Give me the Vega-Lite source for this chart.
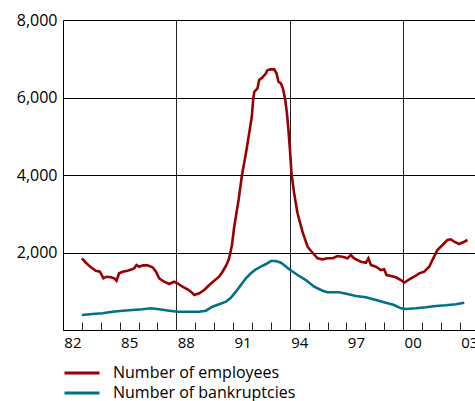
{
  "$schema": "https://vega.github.io/schema/vega-lite/v6.json",
  "width": 412,
  "height": 310,
  "autosize": {"type": "none"},
  "padding": {"left": 63, "top": 20, "right": 0, "bottom": 71},
  "background": "white",
  "config": {"view": {"stroke": null}, "font": "Open Sans"},
  "data": {"values": [
      {"year": 1983.00, "value": 1850, "series": "Number of employees"},
      {"year": 1983.21, "value": 1736, "series": "Number of employees"},
      {"year": 1983.48, "value": 1617, "series": "Number of employees"},
      {"year": 1983.74, "value": 1530, "series": "Number of employees"},
      {"year": 1983.95, "value": 1504, "series": "Number of employees"},
      {"year": 1984.14, "value": 1334, "series": "Number of employees"},
      {"year": 1984.30, "value": 1375, "series": "Number of employees"},
      {"year": 1984.53, "value": 1360, "series": "Number of employees"},
      {"year": 1984.71, "value": 1334, "series": "Number of employees"},
      {"year": 1984.83, "value": 1272, "series": "Number of employees"},
      {"year": 1984.97, "value": 1463, "series": "Number of employees"},
      {"year": 1985.15, "value": 1504, "series": "Number of employees"},
      {"year": 1985.41, "value": 1530, "series": "Number of employees"},
      {"year": 1985.65, "value": 1566, "series": "Number of employees"},
      {"year": 1985.77, "value": 1592, "series": "Number of employees"},
      {"year": 1985.89, "value": 1677, "series": "Number of employees"},
      {"year": 1986.03, "value": 1633, "series": "Number of employees"},
      {"year": 1986.24, "value": 1669, "series": "Number of employees"},
      {"year": 1986.47, "value": 1669, "series": "Number of employees"},
      {"year": 1986.74, "value": 1618, "series": "Number of employees"},
      {"year": 1986.92, "value": 1504, "series": "Number of employees"},
      {"year": 1987.09, "value": 1334, "series": "Number of employees"},
      {"year": 1987.35, "value": 1246, "series": "Number of employees"},
      {"year": 1987.62, "value": 1187, "series": "Number of employees"},
      {"year": 1987.88, "value": 1246, "series": "Number of employees"},
      {"year": 1988.06, "value": 1205, "series": "Number of employees"},
      {"year": 1988.32, "value": 1117, "series": "Number of employees"},
      {"year": 1988.59, "value": 1050, "series": "Number of employees"},
      {"year": 1988.77, "value": 988, "series": "Number of employees"},
      {"year": 1988.94, "value": 903, "series": "Number of employees"},
      {"year": 1989.21, "value": 947, "series": "Number of employees"},
      {"year": 1989.47, "value": 1032, "series": "Number of employees"},
      {"year": 1989.74, "value": 1161, "series": "Number of employees"},
      {"year": 1990.00, "value": 1272, "series": "Number of employees"},
      {"year": 1990.26, "value": 1375, "series": "Number of employees"},
      {"year": 1990.44, "value": 1504, "series": "Number of employees"},
      {"year": 1990.62, "value": 1651, "series": "Number of employees"},
      {"year": 1990.76, "value": 1806, "series": "Number of employees"},
      {"year": 1990.85, "value": 1979, "series": "Number of employees"},
      {"year": 1990.94, "value": 2193, "series": "Number of employees"},
      {"year": 1991.06, "value": 2665, "series": "Number of employees"},
      {"year": 1991.29, "value": 3354, "series": "Number of employees"},
      {"year": 1991.47, "value": 4000, "series": "Number of employees"},
      {"year": 1991.68, "value": 4559, "series": "Number of employees"},
      {"year": 1991.85, "value": 5075, "series": "Number of employees"},
      {"year": 1991.99, "value": 5503, "series": "Number of employees"},
      {"year": 1992.06, "value": 5934, "series": "Number of employees"},
      {"year": 1992.12, "value": 6148, "series": "Number of employees"},
      {"year": 1992.29, "value": 6236, "series": "Number of employees"},
      {"year": 1992.38, "value": 6450, "series": "Number of employees"},
      {"year": 1992.56, "value": 6520, "series": "Number of employees"},
      {"year": 1992.74, "value": 6623, "series": "Number of employees"},
      {"year": 1992.82, "value": 6708, "series": "Number of employees"},
      {"year": 1993.00, "value": 6726, "series": "Number of employees"},
      {"year": 1993.17, "value": 6726, "series": "Number of employees"},
      {"year": 1993.30, "value": 6623, "series": "Number of employees"},
      {"year": 1993.40, "value": 6406, "series": "Number of employees"},
      {"year": 1993.53, "value": 6365, "series": "Number of employees"},
      {"year": 1993.65, "value": 6210, "series": "Number of employees"},
      {"year": 1993.76, "value": 5934, "series": "Number of employees"},
      {"year": 1993.85, "value": 5591, "series": "Number of employees"},
      {"year": 1993.93, "value": 5160, "series": "Number of employees"},
      {"year": 1994.01, "value": 4644, "series": "Number of employees"},
      {"year": 1994.09, "value": 4043, "series": "Number of employees"},
      {"year": 1994.23, "value": 3527, "series": "Number of employees"},
      {"year": 1994.41, "value": 3011, "series": "Number of employees"},
      {"year": 1994.67, "value": 2536, "series": "Number of employees"},
      {"year": 1994.94, "value": 2149, "series": "Number of employees"},
      {"year": 1995.20, "value": 1994, "series": "Number of employees"},
      {"year": 1995.47, "value": 1850, "series": "Number of employees"},
      {"year": 1995.73, "value": 1824, "series": "Number of employees"},
      {"year": 1995.99, "value": 1850, "series": "Number of employees"},
      {"year": 1996.26, "value": 1850, "series": "Number of employees"},
      {"year": 1996.52, "value": 1909, "series": "Number of employees"},
      {"year": 1996.79, "value": 1891, "series": "Number of employees"},
      {"year": 1997.05, "value": 1850, "series": "Number of employees"},
      {"year": 1997.23, "value": 1935, "series": "Number of employees"},
      {"year": 1997.41, "value": 1850, "series": "Number of employees"},
      {"year": 1997.76, "value": 1762, "series": "Number of employees"},
      {"year": 1998.03, "value": 1736, "series": "Number of employees"},
      {"year": 1998.16, "value": 1850, "series": "Number of employees"},
      {"year": 1998.29, "value": 1677, "series": "Number of employees"},
      {"year": 1998.56, "value": 1633, "series": "Number of employees"},
      {"year": 1998.82, "value": 1548, "series": "Number of employees"},
      {"year": 1998.99, "value": 1566, "series": "Number of employees"},
      {"year": 1999.12, "value": 1419, "series": "Number of employees"},
      {"year": 1999.35, "value": 1393, "series": "Number of employees"},
      {"year": 1999.61, "value": 1360, "series": "Number of employees"},
      {"year": 1999.88, "value": 1290, "series": "Number of employees"},
      {"year": 2000.05, "value": 1220, "series": "Number of employees"},
      {"year": 2000.32, "value": 1308, "series": "Number of employees"},
      {"year": 2000.58, "value": 1375, "series": "Number of employees"},
      {"year": 2000.85, "value": 1463, "series": "Number of employees"},
      {"year": 2001.11, "value": 1504, "series": "Number of employees"},
      {"year": 2001.38, "value": 1633, "series": "Number of employees"},
      {"year": 2001.59, "value": 1850, "series": "Number of employees"},
      {"year": 2001.81, "value": 2064, "series": "Number of employees"},
      {"year": 2002.08, "value": 2193, "series": "Number of employees"},
      {"year": 2002.34, "value": 2322, "series": "Number of employees"},
      {"year": 2002.52, "value": 2340, "series": "Number of employees"},
      {"year": 2002.70, "value": 2278, "series": "Number of employees"},
      {"year": 2002.96, "value": 2219, "series": "Number of employees"},
      {"year": 2003.23, "value": 2278, "series": "Number of employees"},
      {"year": 2003.40, "value": 2322, "series": "Number of employees"},

      {"year": 1983.00, "value": 387, "series": "Number of bankruptcies"},
      {"year": 1983.56, "value": 413, "series": "Number of bankruptcies"},
      {"year": 1984.09, "value": 431, "series": "Number of bankruptcies"},
      {"year": 1984.62, "value": 472, "series": "Number of bankruptcies"},
      {"year": 1985.15, "value": 498, "series": "Number of bankruptcies"},
      {"year": 1985.68, "value": 516, "series": "Number of bankruptcies"},
      {"year": 1986.21, "value": 534, "series": "Number of bankruptcies"},
      {"year": 1986.65, "value": 560, "series": "Number of bankruptcies"},
      {"year": 1987.09, "value": 534, "series": "Number of bankruptcies"},
      {"year": 1987.62, "value": 498, "series": "Number of bankruptcies"},
      {"year": 1988.06, "value": 472, "series": "Number of bankruptcies"},
      {"year": 1988.68, "value": 472, "series": "Number of bankruptcies"},
      {"year": 1989.21, "value": 472, "series": "Number of bankruptcies"},
      {"year": 1989.56, "value": 498, "series": "Number of bankruptcies"},
      {"year": 1989.91, "value": 601, "series": "Number of bankruptcies"},
      {"year": 1990.26, "value": 663, "series": "Number of bankruptcies"},
      {"year": 1990.62, "value": 730, "series": "Number of bankruptcies"},
      {"year": 1990.88, "value": 833, "series": "Number of bankruptcies"},
      {"year": 1991.15, "value": 988, "series": "Number of bankruptcies"},
      {"year": 1991.41, "value": 1161, "series": "Number of bankruptcies"},
      {"year": 1991.68, "value": 1334, "series": "Number of bankruptcies"},
      {"year": 1991.94, "value": 1463, "series": "Number of bankruptcies"},
      {"year": 1992.21, "value": 1566, "series": "Number of bankruptcies"},
      {"year": 1992.47, "value": 1633, "series": "Number of bankruptcies"},
      {"year": 1992.74, "value": 1703, "series": "Number of bankruptcies"},
      {"year": 1993.00, "value": 1780, "series": "Number of bankruptcies"},
      {"year": 1993.26, "value": 1780, "series": "Number of bankruptcies"},
      {"year": 1993.53, "value": 1736, "series": "Number of bankruptcies"},
      {"year": 1993.76, "value": 1651, "series": "Number of bankruptcies"},
      {"year": 1993.97, "value": 1566, "series": "Number of bankruptcies"},
      {"year": 1994.41, "value": 1419, "series": "Number of bankruptcies"},
      {"year": 1994.85, "value": 1290, "series": "Number of bankruptcies"},
      {"year": 1995.29, "value": 1117, "series": "Number of bankruptcies"},
      {"year": 1995.73, "value": 1014, "series": "Number of bankruptcies"},
      {"year": 1995.99, "value": 973, "series": "Number of bankruptcies"},
      {"year": 1996.61, "value": 973, "series": "Number of bankruptcies"},
      {"year": 1997.05, "value": 929, "series": "Number of bankruptcies"},
      {"year": 1997.50, "value": 877, "series": "Number of bankruptcies"},
      {"year": 1998.03, "value": 844, "series": "Number of bankruptcies"},
      {"year": 1998.56, "value": 774, "series": "Number of bankruptcies"},
      {"year": 1999.08, "value": 704, "series": "Number of bankruptcies"},
      {"year": 1999.52, "value": 645, "series": "Number of bankruptcies"},
      {"year": 1999.88, "value": 560, "series": "Number of bankruptcies"},
      {"year": 2000.14, "value": 542, "series": "Number of bankruptcies"},
      {"year": 2000.67, "value": 560, "series": "Number of bankruptcies"},
      {"year": 2001.20, "value": 586, "series": "Number of bankruptcies"},
      {"year": 2001.73, "value": 619, "series": "Number of bankruptcies"},
      {"year": 2002.26, "value": 637, "series": "Number of bankruptcies"},
      {"year": 2002.79, "value": 663, "series": "Number of bankruptcies"},
      {"year": 2003.23, "value": 704, "series": "Number of bankruptcies"}
  ]},
  "mark": {"type": "line", "strokeWidth": 2.6, "interpolate": "linear"},
  "encoding": {
    "x": {
      "field": "year", "type": "quantitative",
      "scale": {"domain": [1982, 2003.8], "nice": false, "zero": false},
      "axis": {
        "title": null,
        "values": [1982,1983,1984,1985,1986,1987,1988,1989,1990,1991,1992,1993,1994,1995,1996,1997,1998,1999,2000,2001,2002,2003],
        "labelExpr": "(datum.value - 1982) % 3 == 0 ? substring(toString(datum.value), 2, 4) : ''",
        "labelOffset": 9.45,
        "labelFlush": false,
        "labelOverlap": false,
        "labelSeparation": 0,
        "labelBound": false,
        "grid": true,
        "gridColor": "#222222",
        "gridOpacity": 1,
        "gridDash": {"condition": {"test": "datum.value == 1988 || datum.value == 1994 || datum.value == 2000", "value": []}, "value": [0, 302, 8, 1000]},
        "ticks": false,
        "domainColor": "black",
        "labelPadding": 5,
        "labelFontSize": 15,
        "labelColor": "black",
        "labelFont": "Open Sans"
      }
    },
    "y": {
      "field": "value", "type": "quantitative",
      "scale": {"domain": [0, 8000], "nice": false},
      "axis": {
        "title": null,
        "values": [2000, 4000, 6000, 8000],
        "format": ",.0f",
        "grid": true,
        "gridColor": "black",
        "gridOpacity": 1,
        "tickSize": 0,
        "labelPadding": 6,
        "domainColor": "black",
        "labelFontSize": 16,
        "labelColor": "black",
        "labelFont": "Open Sans"
      }
    },
    "color": {
      "field": "series", "type": "nominal",
      "scale": {"domain": ["Number of employees", "Number of bankruptcies"], "range": ["#990000", "#00708b"]},
      "legend": {
        "title": null,
        "orient": "none",
        "legendX": 0,
        "legendY": 343,
        "symbolType": "stroke",
        "symbolSize": 1225,
        "symbolStrokeWidth": 3,
        "labelFontSize": 16,
        "labelOffset": 12,
        "labelLimit": 400,
        "labelFont": "Open Sans",
        "labelColor": "black",
        "rowPadding": 0,
        "clipHeight": 20,
        "padding": 0
      }
    }
  }
}
